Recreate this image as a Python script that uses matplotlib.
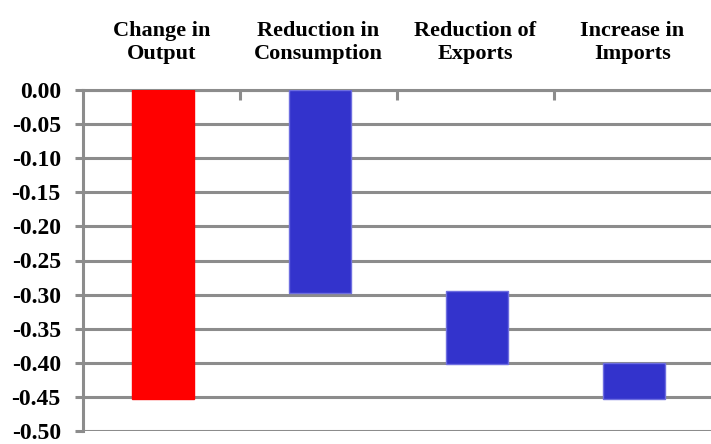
import matplotlib
matplotlib.use("Agg")
import matplotlib.pyplot as plt
import numpy as np

categories = ["Change in\nOutput", "Reduction in\nConsumption", "Reduction of\nExports", "Increase in\nImports"]
bar_tops = [0.0, 0.0, -0.295, -0.40]
bar_bottoms = [-0.453, -0.297, -0.402, -0.453]
bar_colors = ["#FF0000", "#3333CC", "#3333CC", "#3333CC"]
edge_colors = ["#FF0000", "#6E6EE0", "#6E6EE0", "#6E6EE0"]
yticks = [0.00, -0.05, -0.10, -0.15, -0.20, -0.25, -0.30, -0.35, -0.40, -0.45, -0.50]

plt.rcParams['font.family'] = ['Liberation Serif', 'DejaVu Serif']

fig = plt.figure(figsize=(7.11, 4.44), dpi=100)
ax = fig.add_axes([83/711, 1 - 431/444, 1 - 83/711, (431 - 90)/444])

x = np.arange(len(categories))
heights = [b - t for t, b in zip(bar_tops, bar_bottoms)]
ax.bar(x + 0.01, heights, bottom=bar_tops, width=0.4, color=bar_colors,
       edgecolor=edge_colors, linewidth=1, zorder=3)

ax.set_xlim(-0.5, len(categories) - 0.5)
ax.set_ylim(-0.5, 0.0)

grid_c = "#8C8C8C"
ax.set_yticks(yticks)
ax.set_yticklabels([f"{v:.2f}" for v in yticks], fontsize=17, fontweight='bold')
ax.yaxis.grid(True, color=grid_c, linewidth=2.2, zorder=1)
ax.set_axisbelow(True)
ax.tick_params(axis='y', length=6, width=2.2, color=grid_c, pad=10, direction='out')

ax.xaxis.tick_top()
ax.set_xticks(x[:-1] + 0.5)
ax.set_xticklabels([])
ax.set_xticks(x, minor=True)
ax.set_xticklabels(categories, minor=True, fontsize=16, fontweight='bold', linespacing=1.2)
ax.tick_params(axis='x', which='major', direction='in', length=7, width=2.2, color=grid_c)
ax.tick_params(axis='x', which='minor', length=0, pad=19)

for s in ['right', 'bottom']:
    ax.spines[s].set_visible(False)
for s in ['left', 'top']:
    ax.spines[s].set_color(grid_c)
    ax.spines[s].set_linewidth(2.2)

fig.savefig("out.png", dpi=100)
